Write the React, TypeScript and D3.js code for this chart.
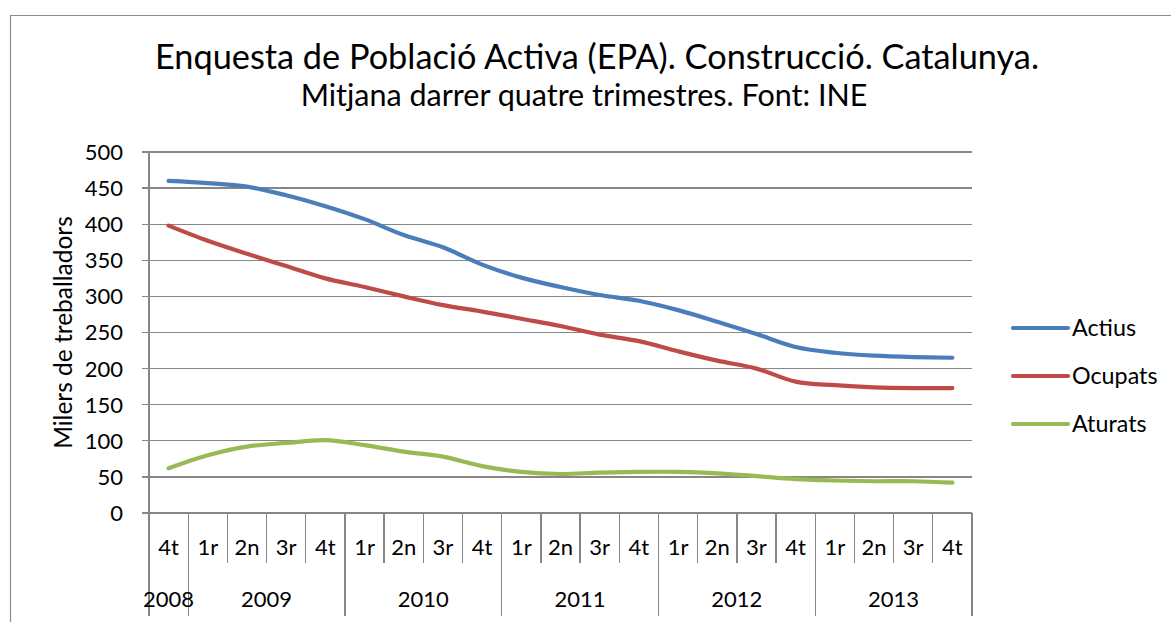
import React from "react";
import * as d3 from "d3";

const quarters = ["4t","1r","2n","3r","4t","1r","2n","3r","4t","1r","2n","3r","4t","1r","2n","3r","4t","1r","2n","3r","4t"];
const years = ["2008","2009","2010","2011","2012","2013"];
const yearOfQuarter = [0,1,1,1,1,2,2,2,2,3,3,3,3,4,4,4,4,5,5,5,5];

const actius = [460,457,452,440,425,407,385,368,344,326,313,302,294,281,265,248,230,222,218,216,215];
const ocupats = [398,377,359,342,325,313,300,288,279,269,259,247,238,224,211,200,182,177,174,173,173];
const aturats = [62,80,92,97,101,94,85,78,65,57,54,56,57,57,55,51,47,45,44,44,42];

const seriesNames = ["Actius","Ocupats","Aturats"];
const seriesColors = ["#4A7EBB","#BE4B48","#98B954"];
const yTicks = [0,50,100,150,200,250,300,350,400,450,500];

const FONT = "Lato, 'Open Sans', sans-serif";

export default function App() {
  const W = 1171, H = 622;
  const left = 149, right = 972, top = 152, bottom = 513;
  const idx = quarters.map((_, i) => i);
  const x = d3.scaleBand<number>().domain(idx).range([left, right]).padding(0);
  const y = d3.scaleLinear().domain([0, 500]).range([bottom, top]);
  const bw = x.bandwidth();
  const cx = (i: number) => (x(i) as number) + bw / 2;
  const line = d3.line<number>().x((_, i) => cx(i)).y(d => y(d)).curve(d3.curveCatmullRom.alpha(0.5));
  const series = [actius, ocupats, aturats];

  const groups = years.map((yr, g) => {
    const members = idx.filter(i => yearOfQuarter[i] === g);
    const x0 = x(members[0]) as number;
    const x1 = (x(members[members.length - 1]) as number) + bw;
    return { yr, x0, x1 };
  });
  const boundaries = idx.map(i => x(i) as number).concat([right]);
  const majorSet = new Set(groups.map(g => Math.round(g.x0)).concat([Math.round(right)]));
  const grid = "#868686";

  return (
    <svg width={W} height={H} style={{ position: "absolute", left: 0, top: 0, background: "#fff" }} fontFamily={FONT}>
      <rect x={0} y={0} width={W} height={H} fill="#fff" />
      <path d={`M10.5,${H} V15.5 H${W}`} fill="none" stroke="#8c8c8c" strokeWidth={1.2} />
      <text x={597} y={69} textAnchor="middle" fontSize={34.3} fill="#000">Enquesta de Població Activa (EPA). Construcció. Catalunya.</text>
      <text x={584} y={106} textAnchor="middle" fontSize={30.5} fill="#000">Mitjana darrer quatre trimestres. Font: INE</text>

      {yTicks.map(t => (
        <g key={t}>
          <line x1={142} x2={right} y1={y(t)} y2={y(t)} stroke={grid} strokeWidth={1.3} shapeRendering="crispEdges" />
          <text x={123} y={y(t)} dy="0.36em" textAnchor="end" fontSize={22} fill="#000">{t}</text>
        </g>
      ))}
      <line x1={left} x2={left} y1={top} y2={bottom} stroke={grid} strokeWidth={1.3} shapeRendering="crispEdges" />

      {boundaries.map((bx, i) => {
        const major = majorSet.has(Math.round(bx));
        return <line key={i} x1={bx} x2={bx} y1={bottom} y2={major ? 616 : 563} stroke={grid} strokeWidth={1.3} shapeRendering="crispEdges" />;
      })}

      {quarters.map((q, i) => (
        <text key={i} x={cx(i)} y={555} textAnchor="middle" fontSize={22} fill="#000">{q}</text>
      ))}
      {groups.map(g => (
        <text key={g.yr} x={(g.x0 + g.x1) / 2} y={607} textAnchor="middle" fontSize={22} fill="#000">{g.yr}</text>
      ))}

      <text transform={`translate(72,${(top + bottom) / 2}) rotate(-90)`} textAnchor="middle" fontSize={24.5} fill="#000">Milers de treballadors</text>

      {series.map((s, k) => (
        <path key={k} d={line(s) || ""} fill="none" stroke={seriesColors[k]} strokeWidth={4.2} strokeLinecap="round" strokeLinejoin="round" />
      ))}

      {seriesNames.map((n, k) => (
        <g key={n}>
          <line x1={1013} x2={1068} y1={328 + k * 48} y2={328 + k * 48} stroke={seriesColors[k]} strokeWidth={4.2} strokeLinecap="round" />
          <text x={1072} y={328 + k * 48} dy="0.36em" fontSize={23.3} fill="#000">{n}</text>
        </g>
      ))}
    </svg>
  );
}
